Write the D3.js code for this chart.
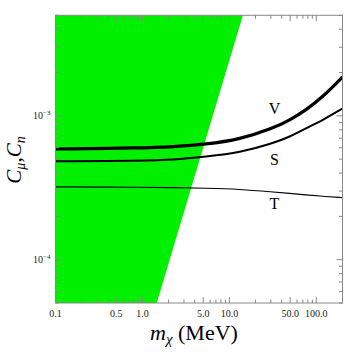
<!DOCTYPE html>
<html><head><meta charset="utf-8">
<script src="https://cdn.jsdelivr.net/npm/d3@7/dist/d3.min.js"></script>
<style>body{margin:0;background:#fff}svg{display:block}</style>
</head><body>
<svg id="c" width="346" height="352"></svg>
<script>
// ---- data ----
const xDomain = [0.1, 200];          // m_chi (MeV)
const yDomain = [5e-5, 5e-3];        // C_mu, C_n
const xTickMajor = [0.1, 0.5, 1, 5, 10, 50, 100];
const xTickLabels = ["0.1", "0.5", "1.0", "5.0", "10.0", "50.0", "100.0"];
const yTickMajor = [1e-4, 1e-3];
const yTickExp = ["\u22124", "\u22123"];
// excluded (green) region boundary: right edge line
const boundaryX = [1.46, 14.3];
const boundaryY = [5e-5, 5e-3];
// curves
const curveX = [0.1, 1, 2.24, 5.37, 13.2, 31.6, 49.5, 75.7, 118.8, 200];
const seriesV = [5.88e-4, 5.98e-4, 6.10e-4, 6.33e-4, 6.86e-4, 8.18e-4, 9.34e-4, 1.095e-3, 1.354e-3, 1.864e-3];
const seriesS = [4.83e-4, 4.88e-4, 4.93e-4, 5.20e-4, 5.54e-4, 6.44e-4, 7.15e-4, 8.18e-4, 9.34e-4, 1.125e-3];
const seriesT = [3.21e-4, 3.19e-4, 3.17e-4, 3.14e-4, 3.09e-4, 2.96e-4, 2.89e-4, 2.82e-4, 2.76e-4, 2.70e-4];
const seriesNames = ["V", "S", "T"];
const labelPos = [[33, 1.03e-3], [33, 4.55e-4], [33, 2.25e-4]];

// ---- layout ----
const L = 55.5, R = 342.5, T = 15.3, B = 303;
const svg = d3.select("#c");
const x = d3.scaleLog().domain(xDomain).range([L, R]);
const y = d3.scaleLog().domain(yDomain).range([B, T]);
const serif = "'Liberation Serif','DejaVu Serif',serif";

svg.append("defs").append("clipPath").attr("id","clip")
  .append("rect").attr("x",L).attr("y",T).attr("width",R-L).attr("height",B-T);

// green region
const poly = [[xDomain[0], yDomain[0]], [xDomain[0], yDomain[1]],
  [boundaryX[1], boundaryY[1]], [boundaryX[0], boundaryY[0]]];
svg.append("path").attr("clip-path","url(#clip)")
  .attr("d", d3.line().x(d=>x(d[0])).y(d=>y(d[1]))(poly) + "Z")
  .attr("fill", "#00f000");

// curves
const line = d3.line().curve(d3.curveBasis).x(d=>x(d[0])).y(d=>y(d[1]));
const allSeries = [seriesV, seriesS, seriesT];
const widths = [3.2, 2, 1.1];
allSeries.forEach((s,i)=>{
  svg.append("path").attr("clip-path","url(#clip)")
    .attr("d", line(curveX.map((v,j)=>[v, s[j]])))
    .attr("fill","none").attr("stroke","#000").attr("stroke-width",widths[i]);
});
seriesNames.forEach((n,i)=>{
  svg.append("text").attr("x", x(labelPos[i][0])).attr("y", y(labelPos[i][1]))
    .attr("text-anchor","middle").attr("font-family",serif).attr("font-size",16)
    .text(n);
});

// frame and ticks
const fc = "#888";
const g = svg.append("g").attr("stroke", fc).attr("stroke-width", 1).attr("fill","none");
g.append("rect").attr("x",L).attr("y",T).attr("width",R-L).attr("height",B-T);

// x ticks
const xMinor = [];
[0.1, 1, 10, 100].forEach(d=>{ for(let k=1;k<10;k++){ const v=d*k; if(v>=xDomain[0]&&v<=xDomain[1]) xMinor.push(v);} });
xMinor.forEach(v=>{
  const maj = xTickMajor.includes(+v.toPrecision(3));
  const len = maj ? 6 : 3.5;
  g.append("line").attr("x1",x(v)).attr("x2",x(v)).attr("y1",B).attr("y2",B-len);
  g.append("line").attr("x1",x(v)).attr("x2",x(v)).attr("y1",T).attr("y2",T+len);
});
xTickMajor.forEach((v,i)=>{
  svg.append("text").attr("x",x(v)).attr("y",B+13.5).attr("text-anchor","middle")
    .attr("font-family",serif).attr("font-size",10).attr("fill","#222").text(xTickLabels[i]);
});
// y ticks
const yMinor = [];
[1e-5, 1e-4, 1e-3].forEach(d=>{ for(let k=1;k<10;k++){ const v=d*k; if(v>=yDomain[0]*0.999&&v<=yDomain[1]*1.001) yMinor.push(v);} });
yMinor.forEach(v=>{
  const maj = yTickMajor.some(m=>Math.abs(m-v)/m<1e-6);
  const len = maj ? 6 : 3.5;
  g.append("line").attr("x1",L).attr("x2",L+len).attr("y1",y(v)).attr("y2",y(v));
  g.append("line").attr("x1",R).attr("x2",R-len).attr("y1",y(v)).attr("y2",y(v));
});
yTickMajor.forEach((v,i)=>{
  const t = svg.append("text").attr("x",L-5).attr("y",y(v)+3.5).attr("text-anchor","end")
    .attr("font-family",serif).attr("font-size",10).attr("fill","#222");
  t.append("tspan").text("10");
  t.append("tspan").attr("dy",-4).attr("font-size",7).text(yTickExp[i]);
});

// axis titles
const xt = svg.append("text").attr("x",150).attr("y",340)
  .attr("font-family",serif).attr("font-size",22).attr("fill","#000");
xt.append("tspan").attr("font-style","italic").text("m");
xt.append("tspan").attr("font-style","italic").attr("font-size",15).attr("dy",4).text("\u03c7");
xt.append("tspan").attr("dy",-4).text(" (MeV)");

const yt = svg.append("text").attr("transform","translate(21,160) rotate(-90)")
  .attr("text-anchor","middle").attr("font-family",serif).attr("font-size",21).attr("fill","#000");
yt.append("tspan").attr("font-style","italic").text("C");
yt.append("tspan").attr("font-style","italic").attr("font-size",14).attr("dy",4).text("\u03bc");
yt.append("tspan").attr("dy",-4).text(",");
yt.append("tspan").attr("font-style","italic").text("C");
yt.append("tspan").attr("font-style","italic").attr("font-size",14).attr("dy",4).text("n");
</script>
</body></html>
